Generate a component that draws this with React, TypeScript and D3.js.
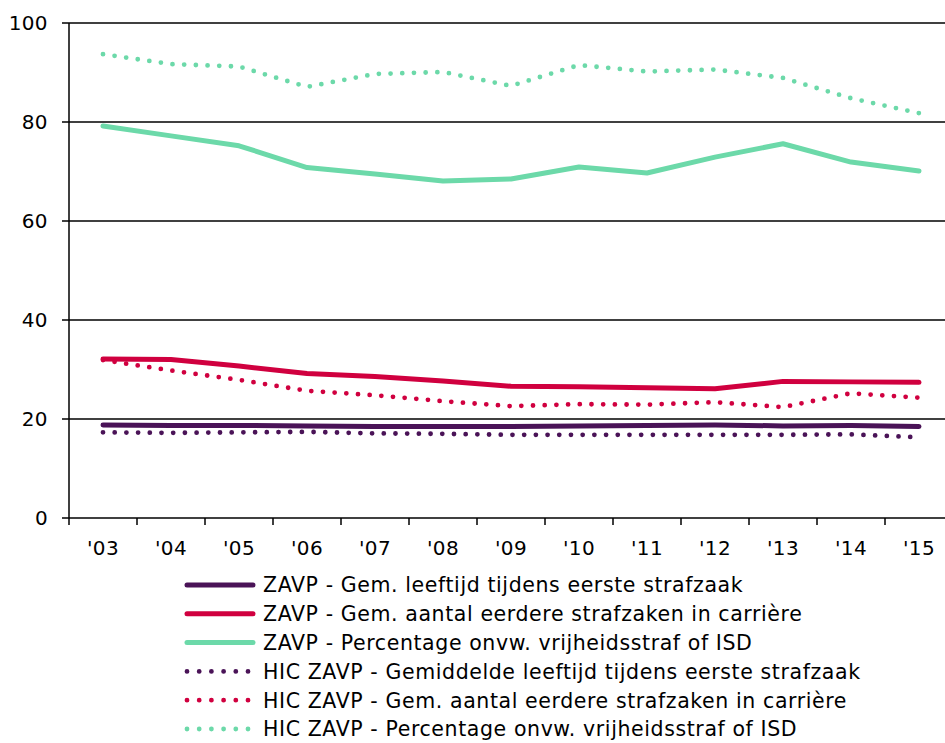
import * as d3 from 'd3';

const years = ["'03", "'04", "'05", "'06", "'07", "'08", "'09", "'10", "'11", "'12", "'13", "'14", "'15"];
const yTicks = [0, 20, 40, 60, 80, 100];

const zavpAge = [18.8, 18.7, 18.7, 18.6, 18.5, 18.5, 18.5, 18.6, 18.7, 18.8, 18.6, 18.7, 18.5];
const zavpCases = [32.1, 32.0, 30.7, 29.2, 28.6, 27.7, 26.6, 26.5, 26.3, 26.1, 27.6, 27.5, 27.4];
const zavpPct = [79.2, 77.2, 75.2, 70.8, 69.5, 68.1, 68.5, 70.9, 69.7, 72.9, 75.6, 71.9, 70.1];
const hicAge = [17.3, 17.2, 17.3, 17.4, 17.1, 17.0, 16.8, 16.8, 16.8, 16.8, 16.8, 16.9, 16.3];
const hicCases = [31.9, 29.8, 27.9, 25.7, 24.8, 23.6, 22.6, 23.0, 22.9, 23.4, 22.4, 25.2, 24.3];
const hicPct = [93.7, 91.7, 91.2, 87.1, 89.7, 90.1, 87.3, 91.5, 90.2, 90.6, 88.9, 84.8, 81.8];

const purple = '#4a1357';
const red = '#d0003f';
const green = '#6cd9a9';

const series = [
  { name: 'ZAVP - Gem. leeftijd tijdens eerste strafzaak', values: zavpAge, color: purple, dotted: false },
  { name: 'ZAVP - Gem. aantal eerdere strafzaken in carrière', values: zavpCases, color: red, dotted: false },
  { name: 'ZAVP - Percentage onvw. vrijheidsstraf of ISD', values: zavpPct, color: green, dotted: false },
  { name: 'HIC ZAVP - Gemiddelde leeftijd tijdens eerste strafzaak', values: hicAge, color: purple, dotted: true },
  { name: 'HIC ZAVP - Gem. aantal eerdere strafzaken in carrière', values: hicCases, color: red, dotted: true },
  { name: 'HIC ZAVP - Percentage onvw. vrijheidsstraf of ISD', values: hicPct, color: green, dotted: true },
];

const width = 945;
const height = 743;
const left = 69;
const top = 23;
const bottom = 518;
const font = 'DejaVu Sans, Verdana, sans-serif';

export default function App() {
  const x = d3.scaleBand<string>().domain(years).range([left, left + 13 * 68]);
  const y = d3.scaleLinear().domain([0, 100]).range([bottom, top]);

  const line = d3
    .line<number>()
    .x((_d, i) => (x(years[i]) as number) + x.bandwidth() / 2)
    .y((d) => y(d));

  // legend rows
  const legendY = d3.scaleLinear().domain([0, 5]).range([585, 729]);
  const lx0 = 187;
  const lx1 = 253;

  return (
    <svg
      width={width}
      height={height}
      style={{ position: 'absolute', left: 0, top: 0, background: '#fff' }}
      fontFamily={font}
    >
      {/* gridlines + y ticks */}
      {yTicks.map((t) => (
        <g key={t}>
          {t > 0 && <line x1={left - 7} x2={width} y1={y(t)} y2={y(t)} stroke="#000" strokeWidth={1.5} />}
          {t === 0 && <line x1={left - 7} x2={left} y1={y(t)} y2={y(t)} stroke="#000" strokeWidth={1.5} />}
          <text x={48} y={y(t)} dy="0.36em" textAnchor="end" fontSize={20} letterSpacing={0.4} fill="#000">
            {t}
          </text>
        </g>
      ))}
      {/* axes */}
      <line x1={left} x2={left} y1={top} y2={bottom} stroke="#000" strokeWidth={1.5} />
      <line x1={left} x2={width} y1={bottom} y2={bottom} stroke="#000" strokeWidth={1.5} />
      {years.map((yr) => (
        <g key={yr}>
          <line
            x1={x(yr) as number}
            x2={x(yr) as number}
            y1={bottom}
            y2={bottom + 7}
            stroke="#000"
            strokeWidth={1.5}
          />
          <text
            x={(x(yr) as number) + x.bandwidth() / 2}
            y={548}
            dy="0.36em"
            textAnchor="middle"
            fontSize={20}
            letterSpacing={0.4}
            fill="#000"
          >
            {yr}
          </text>
        </g>
      ))}

      {/* series */}
      {series.map((s) => (
        <path
          key={s.name}
          d={line(s.values) as string}
          fill="none"
          stroke={s.color}
          strokeWidth={s.dotted ? 4.8 : 5}
          strokeLinecap="round"
          strokeLinejoin="round"
          strokeDasharray={s.dotted ? '0 11.7' : undefined}
        />
      ))}

      {/* legend */}
      {series.map((s, i) => (
        <g key={s.name}>
          <line
            x1={lx0}
            x2={lx1}
            y1={legendY(i)}
            y2={legendY(i)}
            stroke={s.color}
            strokeWidth={s.dotted ? 4.8 : 5}
            strokeLinecap="round"
            strokeDasharray={s.dotted ? '0 12.2' : undefined}
          />
          <text x={263} y={legendY(i)} dy="0.36em" fontSize={20.5} letterSpacing={0.6} fill="#000">
            {s.name}
          </text>
        </g>
      ))}
    </svg>
  );
}
